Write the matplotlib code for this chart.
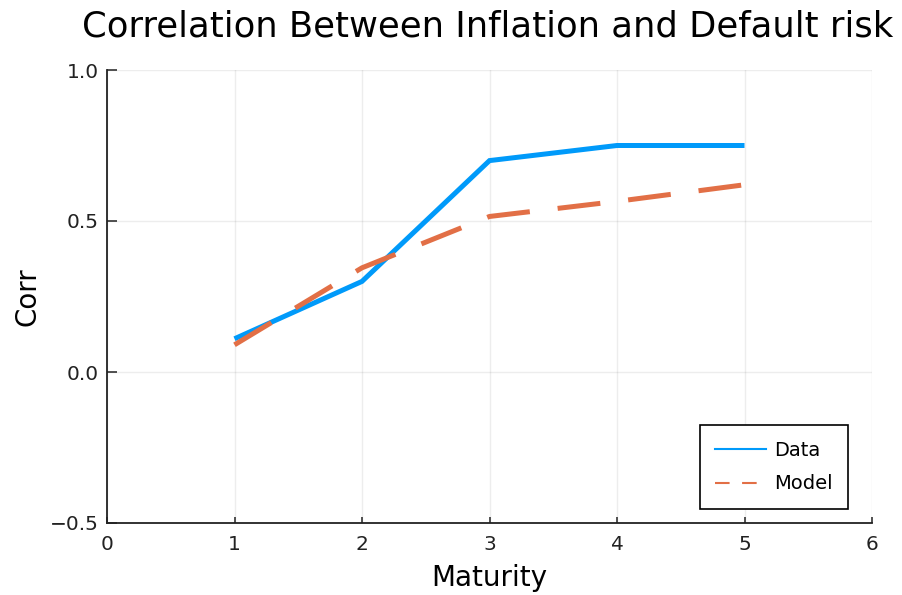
import matplotlib
matplotlib.use("Agg")
import matplotlib.pyplot as plt
from matplotlib.lines import Line2D

maturity = [1, 2, 3, 4, 5]
data_corr = [0.11, 0.30, 0.70, 0.75, 0.75]
model_corr = [0.09, 0.345, 0.515, 0.565, 0.62]
series_labels = ["Data", "Model"]
x_ticks = [0, 1, 2, 3, 4, 5, 6]
y_ticks = [-0.5, 0.0, 0.5, 1.0]

blue = "#009AFA"
orange = "#E26F46"

plt.rcParams['font.family'] = ['DejaVu Sans']
fig = plt.figure(figsize=(9.02, 5.95), dpi=100)
ax = fig.add_axes([107/902, 1 - 523/595, (872-107)/902, (523-70)/595])

ax.plot(maturity, data_corr, color=blue, lw=3.6, solid_capstyle='butt', solid_joinstyle='miter', zorder=3)
ax.plot(maturity, model_corr, color=orange, lw=3.6, dashes=(8.6, 5.6), dash_capstyle='butt', zorder=4)

ax.set_xlim(0, 6)
ax.set_ylim(-0.5, 1.0)
ax.set_xticks(x_ticks)
ax.set_yticks(y_ticks)
ax.set_yticklabels(["\u22120.5", "0.0", "0.5", "1.0"])
ax.grid(True, color='#000000', alpha=0.07, lw=1)
ax.set_axisbelow(True)
for s in ['top', 'right']:
    ax.spines[s].set_visible(False)
for s in ['left', 'bottom']:
    ax.spines[s].set_linewidth(1.3)
    ax.spines[s].set_color('#222222')
ax.tick_params(direction='in', width=1.1, labelsize=14.5, colors='#222222')
ax.tick_params(axis='x', length=4, pad=9)
ax.tick_params(axis='y', length=7, pad=6)

ax.set_xlabel("Maturity", fontsize=20, labelpad=7)
ax.set_ylabel("Corr", fontsize=20, labelpad=6)
ax.set_title("Correlation Between Inflation and Default risk", fontsize=25.5, pad=24, x=0.497)

handles = [Line2D([], [], color=blue, lw=1.5),
           Line2D([], [], color=orange, lw=1.5, dashes=(7, 6))]
leg = ax.legend(handles, series_labels, loc='lower right', fontsize=14, frameon=True,
                fancybox=False, edgecolor='black', framealpha=1, handlelength=2.6,
                handletextpad=0.4, labelspacing=0.75, borderpad=0.8, borderaxespad=0,
                bbox_to_anchor=((848-107)/765, (523-509)/453))
leg.get_frame().set_linewidth(1.2)

fig.savefig("out.png", dpi=100)
